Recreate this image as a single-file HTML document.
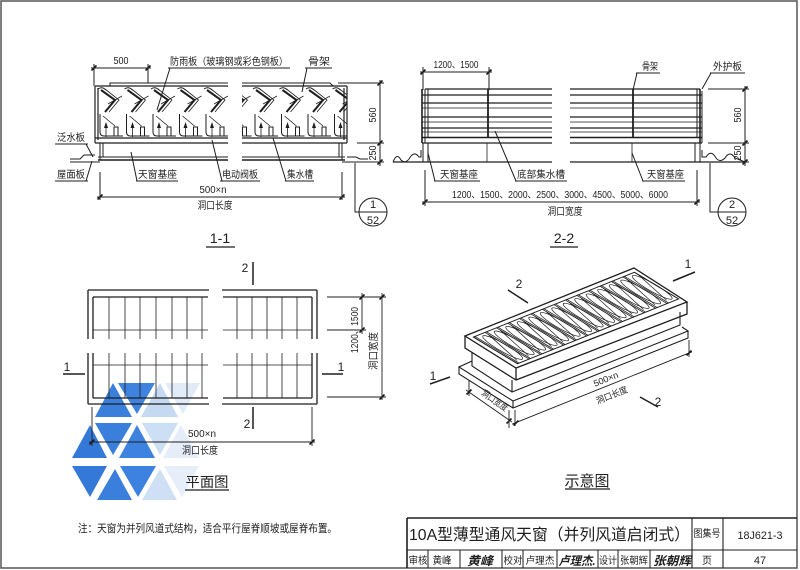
<!DOCTYPE html>
<html><head><meta charset="utf-8">
<style>
html,body{margin:0;padding:0;background:#fff;}
svg{display:block;}
text{font-family:"Liberation Sans","Noto Sans CJK SC",sans-serif;fill:#1e1e1e;}
</style></head><body>
<svg width="800" height="570" viewBox="0 0 800 570" xmlns="http://www.w3.org/2000/svg">
<defs>
<clipPath id="cl"><rect x="95" y="84" width="133" height="60"/></clipPath>
<clipPath id="cr"><rect x="242" y="84" width="105" height="60"/></clipPath>
<g id="cell" fill="none" stroke="#1e1e1e">
 <path d="M0,89 Q4,86 8,90" stroke-width="1"/>
 <path d="M3,90 L17,100 L7,112" stroke-width="2"/>
 <path d="M7,89 L21,100 L11,112" stroke-width="0.8"/>
 <path d="M10,104 L24,96" stroke-width="0.8"/>
 <path d="M2,114 L2,132 Q2,136 6,136 L25,136" stroke-width="1"/>
 <path d="M5,116 L17,126" stroke-width="0.8"/>
 <rect x="16" y="127" width="4" height="9" stroke-width="1"/>
 <path d="M8,137 L8,126" stroke-width="0.8"/>
 <path d="M6,128 L8,122 L10,128 Z" fill="#1e1e1e" stroke="none"/>
</g>
<g id="pc" fill="none" stroke="#1e1e1e">
 <path vector-effect="non-scaling-stroke" stroke-width="0.8" d="M0,0 L0,50 M1.5,0 L1.5,50"/>
 <ellipse vector-effect="non-scaling-stroke" stroke-width="0.7" cx="7.2" cy="25" rx="4.6" ry="22"/>
 <path vector-effect="non-scaling-stroke" stroke-width="0.7" d="M3,46 L11.5,4"/>
</g>
</defs>
<rect width="800" height="570" fill="#fff"/>

<!-- watermark -->
<g>
 <polygon points="95,417 132,417 113,383" fill="#3a7fdc"/>
 <polygon points="118,383 155,383 137,414" fill="#3f83de"/>
 <polygon points="141,417 178,417 160,383" fill="#c6d9f3"/>
 <polygon points="165,383 200,383 183,414" fill="#e2ebf8"/>
 <polygon points="72,458 107,458 90,425" fill="#3579d8"/>
 <polygon points="95,423 132,423 113,455" fill="#3a7fdc"/>
 <polygon points="119,458 155,458 137,425" fill="#3d82de"/>
 <polygon points="142,423 178,423 160,455" fill="#cddff5"/>
 <polygon points="163,458 199,458 181,425" fill="#e5edf9"/>
 <polygon points="72,466 107,466 90,497" fill="#3579d8"/>
 <polygon points="97,500 132,500 115,469" fill="#3a7fdc"/>
 <polygon points="120,466 156,466 138,497" fill="#3d82de"/>
 <polygon points="142,500 177,500 160,469" fill="#cfdff5"/>
 <polygon points="164,466 199,466 182,497" fill="#e6eef9"/>
</g>

<!-- page border -->
<rect x="1" y="1" width="796" height="567" fill="none" stroke="#555" stroke-width="1.5"/>

<!-- ================= 1-1 ================= -->
<g stroke="#1e1e1e" fill="none" stroke-width="1">
 <path d="M91,68 L151,68 M94,64 L94,86 M148,64 L148,83"/>
 <path d="M91.5,70.5 L96.5,65.5 M145.5,70.5 L150.5,65.5" stroke-width="1.6"/>
 <path d="M110,86 L110,83 L228,83 M242,83 L330,83 L333,86"/>
 <path d="M95,86 L228,86 M242,86 L347,86" stroke-width="1.3"/>
 <path d="M95,86 L95,143 M98,88 L98,140 M347,86 L347,143 M344,88 L344,140" stroke-width="1.2"/>
 <path d="M95,138 L228,138 M242,138 L347,138 M95,143 L228,143 M242,143 L347,143" stroke-width="1.2"/>
 <path d="M100,143 L100,160 M103,143 L103,157 M342,143 L342,160 M339,143 L339,157"/>
 <path d="M98,157 L228,157 M242,157 L345,157" stroke-width="1"/>
 <path d="M98,160 L228,160 M242,160 L345,160" stroke-width="1.4"/>
 <path d="M70,159 L80,159 L84,155 L95,155 M70,162 L100,162"/>
 <path d="M347,157 L356,157 L360,159 L368,159 M342,162 L368,162"/>
 <path d="M168,68 L290,68 M170,68 L157,110"/>
 <path d="M305,68 L332,68 M307,68 L302,92"/>
 <path d="M55,144 L88,144 M86,144 L93,157"/>
 <path d="M55,181 L88,181 M86,181 L92,161"/>
 <path d="M136,181 L178,181 M137,181 L131,152"/>
 <path d="M220,181 L260,181 M222,181 L212,140"/>
 <path d="M285,181 L314,181 M286,181 L273,138"/>
 <path d="M100,172 L100,200 M342,172 L342,200 M97,197 L345,197"/>
 <path d="M97.5,199.5 L102.5,194.5 M339.5,199.5 L344.5,194.5" stroke-width="1.6"/>
 <path d="M338,83 L384,83 M357,143 L384,143 M368,162 L384,162 M380,80 L380,166"/>
 <path d="M377.5,85.5 L382.5,80.5 M377.5,145.5 L382.5,140.5 M377.5,164.5 L382.5,159.5" stroke-width="1.6"/>
 <path d="M355,163 L355,212 L359,212"/>
 <circle cx="373" cy="212" r="14"/>
 <path d="M359,212 L387,212"/>
 <path d="M206,247 L235,247" stroke-width="1.3"/>
</g>
<g clip-path="url(#cl)">
 <use href="#cell" x="98"/><use href="#cell" x="124.5"/><use href="#cell" x="151"/><use href="#cell" x="177.5"/><use href="#cell" x="204"/>
</g>
<g clip-path="url(#cr)">
 <use href="#cell" x="226.5"/><use href="#cell" x="253"/><use href="#cell" x="279.5"/><use href="#cell" x="306"/><use href="#cell" x="332.5"/>
</g>
<g font-size="10">
 <text x="121" y="64" text-anchor="middle" textLength="15" lengthAdjust="spacingAndGlyphs">500</text>
 <text x="170" y="65" textLength="118" lengthAdjust="spacingAndGlyphs">防雨板（玻璃钢或彩色钢板）</text>
 <text x="308" y="65" textLength="22" lengthAdjust="spacingAndGlyphs">骨架</text>
 <text x="57" y="141" textLength="28" lengthAdjust="spacingAndGlyphs">泛水板</text>
 <text x="57" y="178" textLength="28" lengthAdjust="spacingAndGlyphs">屋面板</text>
 <text x="138" y="178" textLength="39" lengthAdjust="spacingAndGlyphs">天窗基座</text>
 <text x="222" y="178" textLength="36" lengthAdjust="spacingAndGlyphs">电动阀板</text>
 <text x="287" y="178" textLength="26" lengthAdjust="spacingAndGlyphs">集水槽</text>
 <text x="213" y="193" text-anchor="middle" textLength="27" lengthAdjust="spacingAndGlyphs">500×n</text>
 <text x="215" y="209" text-anchor="middle" textLength="35" lengthAdjust="spacingAndGlyphs">洞口长度</text>
 <text transform="translate(376,115) rotate(-90)" text-anchor="middle" textLength="15" lengthAdjust="spacingAndGlyphs">560</text>
 <text transform="translate(376,153) rotate(-90)" text-anchor="middle" textLength="15" lengthAdjust="spacingAndGlyphs">250</text>
 <text x="373" y="208" text-anchor="middle" font-size="11">1</text>
 <text x="373" y="224" text-anchor="middle" font-size="11">52</text>
</g>
<text x="220" y="243" text-anchor="middle" font-size="14">1-1</text>

<!-- ================= 2-2 ================= -->
<g stroke="#1e1e1e" fill="none" stroke-width="1">
 <path d="M420,72 L492,72 M423,67 L423,90 M489,67 L489,90"/>
 <path d="M420.5,74.5 L425.5,69.5 M486.5,74.5 L491.5,69.5" stroke-width="1.6"/>
 <path d="M425,89 L552,89 M570,89 L700,89" stroke-width="1.3"/>
 <path d="M422,95 L552,95 M570,95 L702,95 M422,103 L552,103 M570,103 L702,103 M422,117 L552,117 M570,117 L702,117 M422,128 L552,128 M570,128 L702,128" stroke-width="1.3"/>
 <path d="M422,108 L552,108 M570,108 L702,108 M422,122 L552,122 M570,122 L702,122 M422,132 L552,132 M570,132 L702,132" stroke-width="0.8"/>
 <path d="M422,137.5 L552,137.5 M570,137.5 L702,137.5" stroke-width="1.6"/>
 <path d="M422,143 L552,143 M570,143 L702,143" stroke-width="1.2"/>
 <path d="M422,89 L422,143 M700,89 L700,143" stroke-width="1.6"/>
 <path d="M425,89 L425,143 M428,89 L428,138 M697,89 L697,138 M702,91 L702,143"/>
 <path d="M488,89 L488,138 M633,89 L633,138" stroke-width="1.8"/>
 <path d="M423,143 L423,162 M428,143 L428,162 M695,143 L695,162 M700,143 L700,162"/>
 <path d="M487,143 L487,162 M632,143 L632,162" stroke-width="0.8"/>
 <path d="M393,162 L552,162 M570,162 L745,162" stroke-width="1.3"/>
 <path d="M393,162 Q397,152 401,160 Q405,164 409,159 Q414,150 419,157 L421,157 L421,150"/>
 <path d="M702,150 L702,157 L706,157 Q711,149 716,158 Q720,163 725,158 Q730,150 735,158 L745,162"/>
 <path d="M636,73 L660,73 M637,73 L633,90"/>
 <path d="M710,73 L745,73 M711,73 L702,89"/>
 <path d="M434,181 L480,181 M435,181 L428,153"/>
 <path d="M515,181 L567,181 M516,181 L495,131"/>
 <path d="M642,181 L685,181 M643,181 L632,153"/>
 <path d="M425,170 L425,206 M697,170 L697,206 M422,202 L700,202"/>
 <path d="M422.5,204.5 L427.5,199.5 M694.5,204.5 L699.5,199.5" stroke-width="1.6"/>
 <path d="M708,89 L749,89 M708,143 L749,143 M740,162 L749,162 M745,86 L745,166"/>
 <path d="M742.5,91.5 L747.5,86.5 M742.5,145.5 L747.5,140.5 M742.5,164.5 L747.5,159.5" stroke-width="1.6"/>
 <path d="M710,163 L710,212 L718,212"/>
 <circle cx="732" cy="212" r="14"/>
 <path d="M718,212 L746,212"/>
 <path d="M550,247 L578,247" stroke-width="1.3"/>
</g>
<g font-size="10">
 <text x="456" y="68" text-anchor="middle" textLength="45" lengthAdjust="spacingAndGlyphs">1200、1500</text>
 <text x="642" y="70" textLength="16" lengthAdjust="spacingAndGlyphs">骨架</text>
 <text x="713" y="70" textLength="29" lengthAdjust="spacingAndGlyphs">外护板</text>
 <text x="440" y="178" textLength="38" lengthAdjust="spacingAndGlyphs">天窗基座</text>
 <text x="517" y="178" textLength="48" lengthAdjust="spacingAndGlyphs">底部集水槽</text>
 <text x="647" y="178" textLength="37" lengthAdjust="spacingAndGlyphs">天窗基座</text>
 <text x="452" y="198" textLength="216" lengthAdjust="spacingAndGlyphs">1200、1500、2000、2500、3000、4500、5000、6000</text>
 <text x="565" y="215" text-anchor="middle" textLength="35" lengthAdjust="spacingAndGlyphs">洞口宽度</text>
 <text transform="translate(741,115) rotate(-90)" text-anchor="middle" textLength="15" lengthAdjust="spacingAndGlyphs">560</text>
 <text transform="translate(741,153) rotate(-90)" text-anchor="middle" textLength="15" lengthAdjust="spacingAndGlyphs">250</text>
 <text x="732" y="208" text-anchor="middle" font-size="11">2</text>
 <text x="732" y="224" text-anchor="middle" font-size="11">52</text>
</g>
<text x="564" y="243" text-anchor="middle" font-size="14">2-2</text>

<!-- ================= Plan ================= -->
<g stroke="#1e1e1e" fill="none">
 <path d="M88,290 L209,290 M222,290 L317,290 M88,404 L209,404 M222,404 L317,404 M88,290 L88,339 M88,353 L88,404 M317,290 L317,339 M317,353 L317,404" stroke-width="1.3"/>
 <path d="M93,297 L208,297 M223,297 L312,297 M93,398 L208,398 M223,398 L312,398 M93,297 L93,339 M93,353 L93,398 M312,297 L312,339 M312,353 L312,398" stroke-width="1.3"/>
 <path d="M93,330 L208,330 M223,330 L312,330 M93,365 L208,365 M223,365 L312,365" stroke-width="0.8"/>
 <path d="M109,297 L109,339 M109,353 L109,398 M125,297 L125,339 M125,353 L125,398 M140,297 L140,339 M140,353 L140,398 M156,297 L156,339 M156,353 L156,398 M172,297 L172,339 M172,353 L172,398 M187,297 L187,339 M187,353 L187,398 M202,297 L202,339 M202,353 L202,398 M237,297 L237,339 M237,353 L237,398 M252,297 L252,339 M252,353 L252,398 M267,297 L267,339 M267,353 L267,398 M282,297 L282,339 M282,353 L282,398 M297,297 L297,339 M297,353 L297,398" stroke-width="0.8"/>
 <path d="M253,262 L253,285 M253,407 L253,429 M63,374 L85,374 M322,374 L343,374" stroke-width="1.5"/>
 <path d="M327,297 L386,297 M327,330 L366,330 M327,397 L386,397 M362,293 L362,334 M382,293 L382,400" stroke-width="0.9"/>
 <path d="M359.5,299.5 L364.5,294.5 M359.5,332.5 L364.5,327.5 M379.5,299.5 L384.5,294.5 M379.5,399.5 L384.5,394.5" stroke-width="1.6"/>
 <path d="M92,407 L92,446 M312,407 L312,446 M89,442 L315,442" stroke-width="0.9"/>
 <path d="M89.5,444.5 L94.5,439.5 M309.5,444.5 L314.5,439.5" stroke-width="1.6"/>
 <path d="M185,490 L229,490" stroke-width="1.3"/>
</g>
<g font-size="12">
 <text x="245" y="272" text-anchor="middle">2</text>
 <text x="247" y="428" text-anchor="middle">2</text>
 <text x="67" y="371" text-anchor="middle">1</text>
 <text x="341" y="371" text-anchor="middle">1</text>
</g>
<g font-size="10">
 <text transform="translate(358,330) rotate(-90)" text-anchor="middle" textLength="46" lengthAdjust="spacingAndGlyphs">1200、1500</text>
 <text transform="translate(377,351) rotate(-90)" text-anchor="middle" textLength="38" lengthAdjust="spacingAndGlyphs">洞口宽度</text>
 <text x="202" y="437" text-anchor="middle" textLength="28" lengthAdjust="spacingAndGlyphs">500×n</text>
 <text x="200" y="454" text-anchor="middle" textLength="36" lengthAdjust="spacingAndGlyphs">洞口长度</text>
</g>
<text x="207" y="487" text-anchor="middle" font-size="14" textLength="43" lengthAdjust="spacingAndGlyphs">平面图</text>

<!-- ================= Perspective ================= -->
<g stroke="#1e1e1e" fill="none" stroke-width="1.1">
 <path d="M465,336 L634,268 L687,302 L516,368 Z" stroke-width="1.3"/>
 <path d="M465,336 L465,348 L516,380 L687,314 L687,302 M516,368 L516,380" stroke-width="1.3"/>
 <g transform="matrix(1,-0.4024,0.8833,0.5333,465,336)">
  <path vector-effect="non-scaling-stroke" d="M4,5 L165,5 L165,55 L4,55 Z" stroke-width="1"/>
  <use href="#pc" x="4" y="5"/><use href="#pc" x="15.5" y="5"/><use href="#pc" x="27" y="5"/><use href="#pc" x="38.5" y="5"/><use href="#pc" x="50" y="5"/><use href="#pc" x="61.5" y="5"/><use href="#pc" x="73" y="5"/><use href="#pc" x="84.5" y="5"/><use href="#pc" x="96" y="5"/><use href="#pc" x="107.5" y="5"/><use href="#pc" x="119" y="5"/><use href="#pc" x="130.5" y="5"/><use href="#pc" x="142" y="5"/><use href="#pc" x="153.5" y="5"/>
 </g>
 <path d="M472,352 L472,366 L512,392 L680,325 L680,312 M512,380 L512,392"/>
 <path d="M472,361 L459,367 L513,401 L688,331 L682,327 M459,367 L459,374 L513,408 L688,338 L688,331 M513,401 L513,408"/>
 <path d="M515,410 L515,426 M689,340 L689,357 M512,424.2 L692,351.8" stroke-width="0.9"/>
 <path d="M513.5,425.5 L518.5,420.5 M686.5,355.5 L691.5,350.5" stroke-width="1.6"/>
 <path d="M469,380 L469,396 M509,410 L509,428 M466,390 L512,422" stroke-width="0.9"/>
 <path d="M466.5,394.5 L471.5,389.5 M506.5,423.5 L511.5,418.5" stroke-width="1.6"/>
 <path d="M673,281 L695,272 M508,290 L528,303 M430,384 L450,377 M640,397 L658,407" stroke-width="1.5"/>
 <path d="M565,489 L610,489" stroke-width="1.3"/>
</g>
<g font-size="12">
 <text x="688" y="268" text-anchor="middle">1</text>
 <text x="519" y="288" text-anchor="middle">2</text>
 <text x="433" y="380" text-anchor="middle">1</text>
 <text x="658" y="406" text-anchor="middle">2</text>
</g>
<g font-size="9">
 <text transform="translate(607,382) rotate(-21.8)" text-anchor="middle" textLength="26" lengthAdjust="spacingAndGlyphs">500×n</text>
 <text transform="translate(613,398) rotate(-21.8)" text-anchor="middle" textLength="33" lengthAdjust="spacingAndGlyphs">洞口长度</text>
 <text transform="translate(493,403) rotate(35)" text-anchor="middle" textLength="30" lengthAdjust="spacingAndGlyphs">洞口宽度</text>
</g>
<text x="587" y="486" text-anchor="middle" font-size="15" textLength="45" lengthAdjust="spacingAndGlyphs">示意图</text>

<!-- note -->
<text x="78" y="532" font-size="11" textLength="259" lengthAdjust="spacingAndGlyphs">注：天窗为并列风道式结构，适合平行屋脊顺坡或屋脊布置。</text>

<!-- ================= title block ================= -->
<g stroke="#1e1e1e" fill="none">
 <path d="M407,518 L797,518 M407,518 L407,568" stroke-width="1.6"/>
 <path d="M407,550 L797,550" stroke-width="1.1"/>
 <path d="M692,518 L692,568 M723,518 L723,568" stroke-width="1.1"/>
 <path d="M428,550 L428,568 M460,550 L460,568 M502,550 L502,568 M523,550 L523,568 M557,550 L557,568 M598,550 L598,568 M618,550 L618,568 M650,550 L650,568" stroke-width="1"/>
</g>
<text x="409" y="540" font-size="16" textLength="281" lengthAdjust="spacingAndGlyphs">10A型薄型通风天窗（并列风道启闭式）</text>
<text x="707" y="537" text-anchor="middle" font-size="10" textLength="27" lengthAdjust="spacingAndGlyphs">图集号</text>
<text x="760" y="539" text-anchor="middle" font-size="11" textLength="45" lengthAdjust="spacingAndGlyphs">18J621-3</text>
<g font-size="10">
 <text x="418" y="564" text-anchor="middle" textLength="19" lengthAdjust="spacingAndGlyphs">审核</text>
 <text x="442" y="564" text-anchor="middle" textLength="19" lengthAdjust="spacingAndGlyphs">黄峰</text>
 <text x="480" y="565" text-anchor="middle" font-size="12" font-weight="bold" font-style="italic" textLength="26" lengthAdjust="spacingAndGlyphs">黄峰</text>
 <text x="513" y="564" text-anchor="middle" textLength="19" lengthAdjust="spacingAndGlyphs">校对</text>
 <text x="540" y="564" text-anchor="middle" textLength="29" lengthAdjust="spacingAndGlyphs">卢理杰</text>
 <text x="577" y="565" text-anchor="middle" font-size="12" font-weight="bold" font-style="italic" textLength="37" lengthAdjust="spacingAndGlyphs">卢理杰.</text>
 <text x="608" y="564" text-anchor="middle" textLength="18" lengthAdjust="spacingAndGlyphs">设计</text>
 <text x="634" y="564" text-anchor="middle" textLength="28" lengthAdjust="spacingAndGlyphs">张朝辉</text>
 <text x="672" y="565" text-anchor="middle" font-size="12" font-weight="bold" font-style="italic" textLength="38" lengthAdjust="spacingAndGlyphs">张朝辉</text>
 <text x="707" y="564" text-anchor="middle">页</text>
 <text x="760" y="564" text-anchor="middle" font-size="11">47</text>
</g>
</svg>
</body></html>
